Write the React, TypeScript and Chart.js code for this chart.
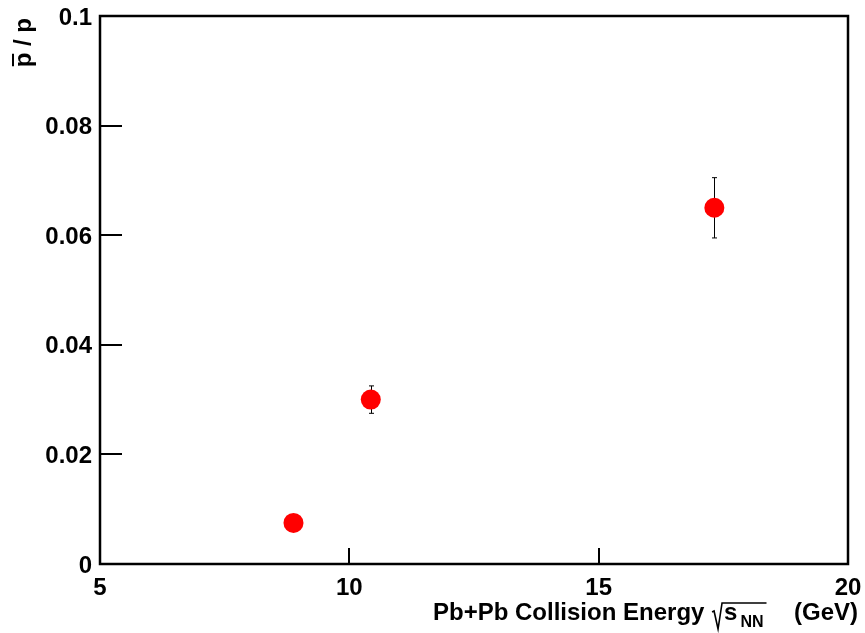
import React, { useEffect, useRef } from "react";
import { Chart, registerables } from "chart.js";

Chart.register(...registerables);

// Antiproton-to-proton ratio vs. collision energy
const energies = [8.88, 10.43, 17.32];
const ratios = [0.0075, 0.03, 0.065];
const ratioErrors = [0.0004, 0.0025, 0.0055];

const xTickValues = [5, 10, 15, 20];
const xTickLabels = ["5", "10", "15", "20"];
const yTickValues = [0, 0.02, 0.04, 0.06, 0.08, 0.1];
const yTickLabels = ["0", "0.02", "0.04", "0.06", "0.08", "0.1"];

const FONT = "'Liberation Sans', Arial, Helvetica, sans-serif";

const framePlugin = {
  id: "rootFrame",
  beforeDatasetsDraw(chart: any) {
    const ctx = chart.ctx;
    const xs = chart.scales.x;
    const ys = chart.scales.y;
    ctx.save();
    ctx.strokeStyle = "#000";
    ctx.lineWidth = 1;
    energies.forEach((e, i) => {
      const px = Math.round(xs.getPixelForValue(e)) + 0.5;
      const top = ys.getPixelForValue(ratios[i] + ratioErrors[i]);
      const bot = ys.getPixelForValue(ratios[i] - ratioErrors[i]);
      ctx.beginPath();
      ctx.moveTo(px, top);
      ctx.lineTo(px, bot);
      ctx.moveTo(px - 2.5, top);
      ctx.lineTo(px + 2.5, top);
      ctx.moveTo(px - 2.5, bot);
      ctx.lineTo(px + 2.5, bot);
      ctx.stroke();
    });
    ctx.restore();
  },
  afterDraw(chart: any) {
    const ctx = chart.ctx;
    const { left, right, top, bottom } = chart.chartArea;
    const xs = chart.scales.x;
    const ys = chart.scales.y;
    ctx.save();
    ctx.strokeStyle = "#000";

    // inward tick marks
    ctx.lineWidth = 2;
    ctx.beginPath();
    yTickValues.forEach((v) => {
      const py = Math.round(ys.getPixelForValue(v));
      ctx.moveTo(left, py);
      ctx.lineTo(left + 22, py);
    });
    xTickValues.forEach((v) => {
      const px = Math.round(xs.getPixelForValue(v));
      ctx.moveTo(px, bottom);
      ctx.lineTo(px, bottom - 16);
    });
    ctx.stroke();

    // frame
    ctx.lineWidth = 2.5;
    ctx.strokeRect(left, top, right - left, bottom - top);

    // x-axis title: Pb+Pb Collision Energy √s_NN  (GeV)
    ctx.fillStyle = "#000";
    ctx.textBaseline = "alphabetic";
    const main = "bold 24px " + FONT;
    const sub = "bold 16px " + FONT;
    const baseY = 620;
    ctx.font = main;
    ctx.textAlign = "left";
    const part1 = "Pb+Pb Collision Energy ";
    ctx.fillText(part1, 433, baseY);
    let x = 433 + ctx.measureText(part1).width;
    const wS = ctx.measureText("s").width;
    ctx.font = sub;
    const wN = ctx.measureText("NN").width;
    // radical sign with its bar
    ctx.lineWidth = 1.6;
    ctx.beginPath();
    ctx.moveTo(x + 1, baseY - 8);
    ctx.lineTo(x + 3, baseY - 9);
    ctx.lineTo(x + 7, baseY + 9);
    ctx.lineTo(x + 11, baseY - 17);
    ctx.lineTo(x + 13 + wS + 3 + wN + 3, baseY - 17);
    ctx.stroke();
    x += 13;
    ctx.font = main;
    ctx.fillText("s", x, baseY);
    x += wS + 3;
    ctx.font = sub;
    ctx.fillText("NN", x, baseY + 7);
    ctx.font = main;
    ctx.textAlign = "right";
    ctx.fillText("(GeV)", 858, baseY);

    // y-axis title: p̄ / p
    ctx.translate(31, 18);
    ctx.rotate(-Math.PI / 2);
    ctx.font = "bold 24px " + FONT;
    ctx.textAlign = "right";
    const ytxt = "p / p";
    const wy = ctx.measureText(ytxt).width;
    const wp = ctx.measureText("p").width;
    ctx.fillText(ytxt, 0, 0);
    ctx.lineWidth = 2;
    ctx.beginPath();
    ctx.moveTo(-wy + 1, -18);
    ctx.lineTo(-wy + wp - 1, -18);
    ctx.stroke();
    ctx.restore();
  },
};

export default function App() {
  const canvasRef = useRef<HTMLCanvasElement | null>(null);

  useEffect(() => {
    document.body.style.margin = "0";
    const canvas = canvasRef.current;
    if (!canvas) return;
    const chart = new Chart(canvas, {
      type: "scatter",
      data: {
        datasets: [
          {
            data: energies.map((e, i) => ({ x: e, y: ratios[i] })),
            backgroundColor: "#ff0000",
            borderColor: "#ff0000",
            borderWidth: 0,
            pointRadius: 10,
            pointHoverRadius: 10,
          },
        ],
      },
      options: {
        responsive: false,
        animation: false,
        devicePixelRatio: 1,
        layout: { padding: { top: 16, right: 17, left: 0, bottom: 0 } },
        plugins: {
          legend: { display: false },
          tooltip: { enabled: false },
        },
        scales: {
          x: {
            type: "linear",
            min: 5,
            max: 20,
            grid: { display: false, drawTicks: false },
            border: { display: false },
            afterBuildTicks: (s: any) => {
              s.ticks = xTickValues.map((v) => ({ value: v }));
            },
            afterFit: (s: any) => {
              s.height = 69;
              s.paddingLeft = 0;
              s.paddingRight = 0;
            },
            ticks: {
              padding: 10,
              color: "#000",
              maxRotation: 0,
              font: { family: FONT, size: 24, weight: "bold" },
              callback: (_v: any, i: number) => xTickLabels[i],
            },
          },
          y: {
            type: "linear",
            min: 0,
            max: 0.1,
            grid: { display: false, drawTicks: false },
            border: { display: false },
            afterBuildTicks: (s: any) => {
              s.ticks = yTickValues.map((v) => ({ value: v }));
            },
            afterFit: (s: any) => {
              s.width = 100;
              s.paddingTop = 0;
              s.paddingBottom = 0;
            },
            ticks: {
              padding: 8,
              labelOffset: 2,
              color: "#000",
              font: { family: FONT, size: 24, weight: "bold" },
              callback: (_v: any, i: number) => yTickLabels[i],
            },
          },
        },
      },
      plugins: [framePlugin],
    });
    return () => chart.destroy();
  }, []);

  return (
    <div style={{ position: "absolute", left: 0, top: 0, width: 865, height: 633, background: "#fff" }}>
      <canvas ref={canvasRef} width={865} height={633} style={{ display: "block" }} />
    </div>
  );
}
